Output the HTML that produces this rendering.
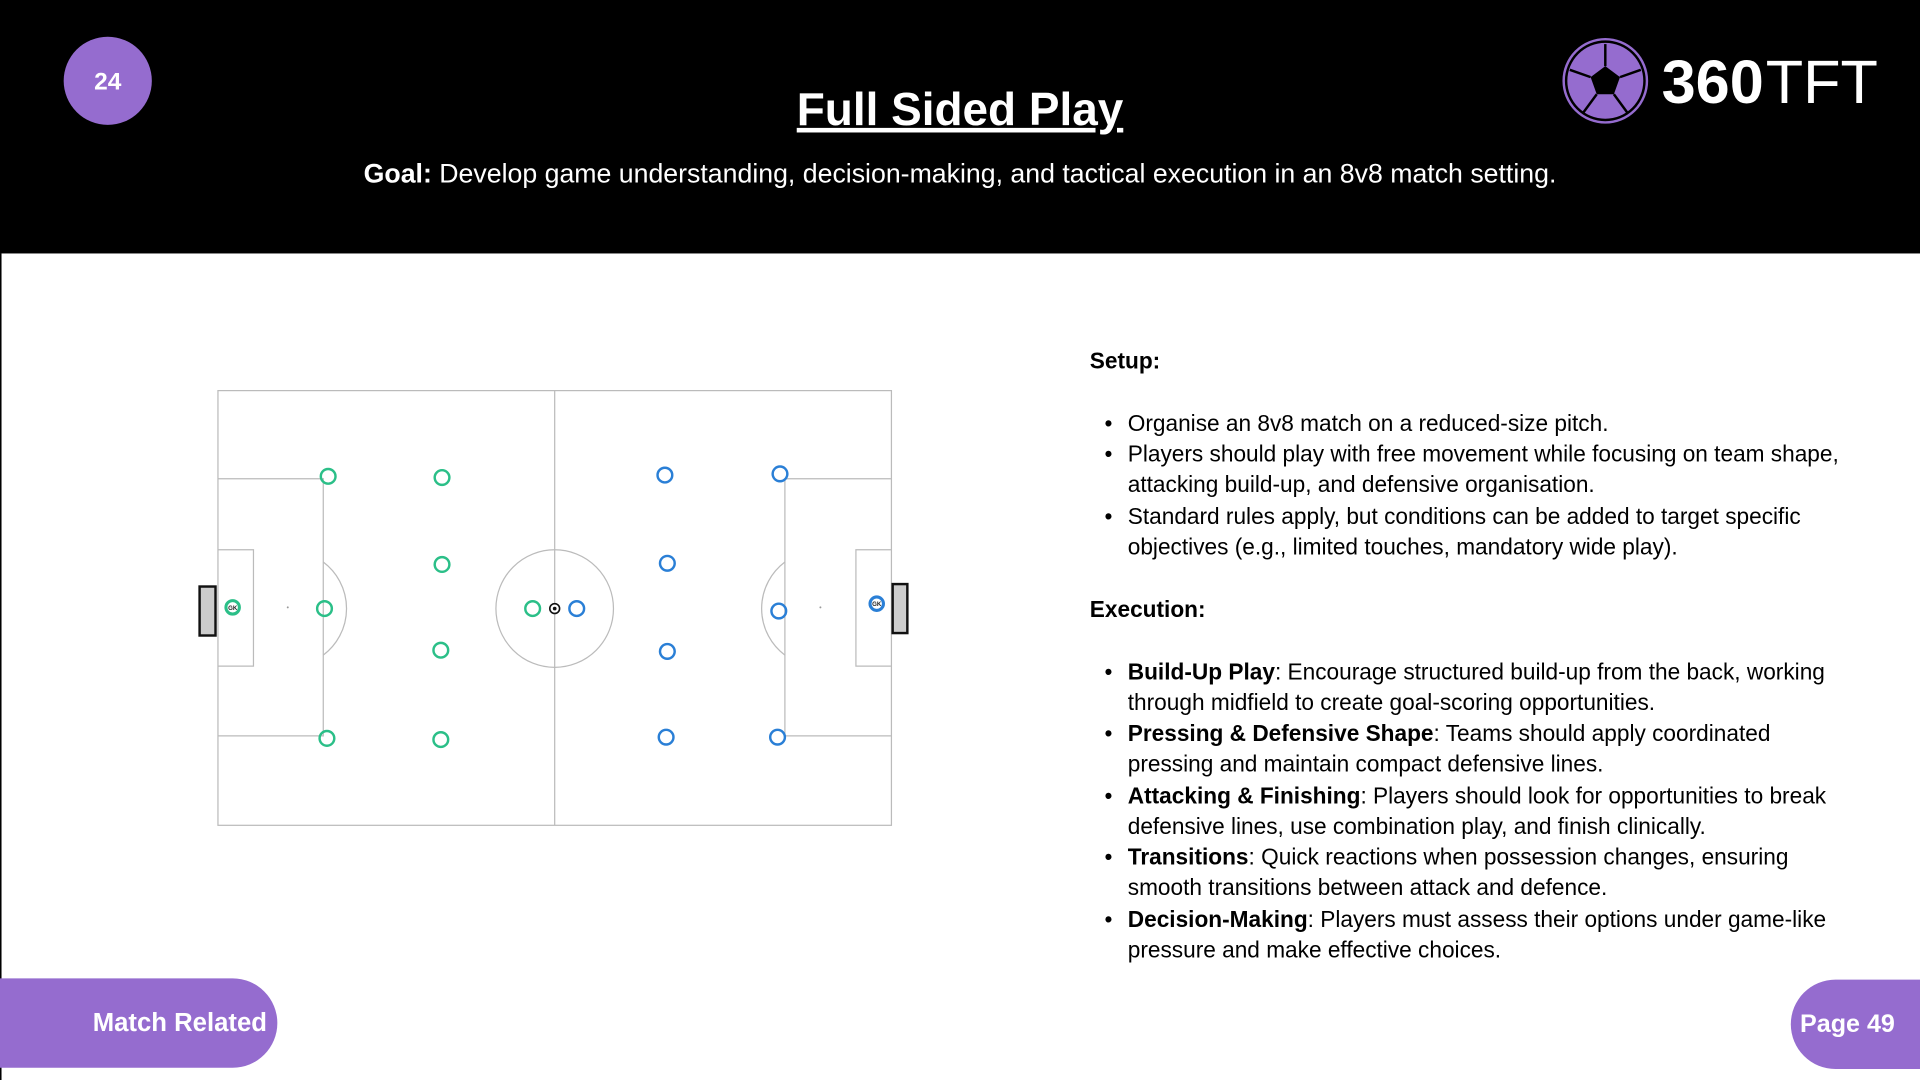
<!DOCTYPE html>
<html><head><meta charset="utf-8"><style>
html,body{margin:0;padding:0;width:1920px;height:1080px;overflow:hidden;background:#fff}
svg{display:block}
text{font-family:"Liberation Sans",Arial,sans-serif}
</style></head><body>
<svg width="1920" height="1080" viewBox="0 0 1568 882" xmlns="http://www.w3.org/2000/svg">
<rect x="0" y="0" width="1568" height="207" fill="#000"/>
<line x1="0.5" y1="207" x2="0.5" y2="882" stroke="#000" stroke-width="1.5"/>
<circle cx="88" cy="66" r="36" fill="#956ccf"/>
<text x="88" y="73" font-size="20" font-weight="bold" fill="#fff" text-anchor="middle">24</text>
<text x="784" y="102" font-size="37.5" font-weight="bold" fill="#fff" text-anchor="middle" text-decoration="underline">Full Sided Play</text>
<text x="784" y="149" font-size="21.8" fill="#fff" text-anchor="middle"><tspan font-weight="bold">Goal:</tspan> Develop game understanding, decision-making, and tactical execution in an 8v8 match setting.</text>
<!-- logo -->
<g>
<circle cx="1311" cy="66" r="34" fill="none" stroke="#956ccf" stroke-width="2"/>
<circle cx="1311" cy="66" r="31" fill="#956ccf"/>
<polygon points="1311,54 1323,63 1318,77 1304,77 1299,63" fill="#000"/>
<line x1="1311" y1="54" x2="1311" y2="36" stroke="#000" stroke-width="2"/>
<line x1="1323" y1="63" x2="1340" y2="57" stroke="#000" stroke-width="2"/>
<line x1="1318" y1="77" x2="1329" y2="92" stroke="#000" stroke-width="2"/>
<line x1="1304" y1="77" x2="1293" y2="92" stroke="#000" stroke-width="2"/>
<line x1="1299" y1="63" x2="1282" y2="57" stroke="#000" stroke-width="2"/>
</g>
<text x="1357" y="84" font-size="50" fill="#fff" font-weight="bold">360</text>
<text x="1442" y="84" font-size="50" fill="#fff">TFT</text>
<!-- pitch -->
<g fill="none" stroke="#bbb" stroke-width="1">
<rect x="178" y="319" width="550" height="355"/>
<line x1="453" y1="319" x2="453" y2="674"/>
<circle cx="453" cy="497" r="48"/>
<path d="M178 391 H264 V601 H178"/>
<path d="M178 449 H207 V544 H178"/>
<path d="M264 459 A47.5 47.5 0 0 1 264 535"/>
<path d="M728 391 H641 V601 H728"/>
<path d="M728 449 H699 V544 H728"/>
<path d="M641 459 A47.5 47.5 0 0 0 641 535"/>
</g>
<circle cx="235" cy="496" r="0.8" fill="#999"/>
<circle cx="670" cy="496" r="0.8" fill="#999"/>
<rect x="163" y="479" width="13" height="40" fill="#ccc" stroke="#111" stroke-width="2"/>
<rect x="729" y="477" width="12" height="40" fill="#ccc" stroke="#111" stroke-width="2"/>
<g fill="none" stroke="#2bbf88" stroke-width="2">
<circle cx="268" cy="389" r="6"/><circle cx="361" cy="390" r="6"/>
<circle cx="361" cy="461" r="6"/><circle cx="360" cy="531" r="6"/>
<circle cx="267" cy="603" r="6"/><circle cx="360" cy="604" r="6"/>
<circle cx="265" cy="497" r="6"/><circle cx="435" cy="497" r="6"/>
<circle cx="190" cy="496" r="5.5" stroke-width="2.5"/>
</g>
<g fill="none" stroke="#2a7fd6" stroke-width="2">
<circle cx="543" cy="388" r="6"/><circle cx="637" cy="387" r="6"/>
<circle cx="545" cy="460" r="6"/><circle cx="545" cy="532" r="6"/>
<circle cx="544" cy="602" r="6"/><circle cx="635" cy="602" r="6"/>
<circle cx="636" cy="499" r="6"/><circle cx="471" cy="497" r="6"/>
<circle cx="716" cy="493" r="5.5" stroke-width="2.5"/>
</g>
<text x="190" y="498" font-size="5" font-weight="bold" fill="#222" text-anchor="middle">GK</text>
<text x="716" y="495" font-size="5" font-weight="bold" fill="#222" text-anchor="middle">GK</text>
<circle cx="453" cy="497" r="4" fill="#fff" stroke="#111" stroke-width="1.3"/>
<circle cx="453" cy="497" r="1.5" fill="#111"/>
<!-- text -->
<g font-size="18.5" fill="#000">
<text x="890" y="301" font-weight="bold">Setup:</text>
<text x="902" y="352">•</text><text x="921" y="352">Organise an 8v8 match on a reduced-size pitch.</text>
<text x="902" y="377">•</text><text x="921" y="377">Players should play with free movement while focusing on team shape,</text>
<text x="921" y="402">attacking build-up, and defensive organisation.</text>
<text x="902" y="428">•</text><text x="921" y="428">Standard rules apply, but conditions can be added to target specific</text>
<text x="921" y="453">objectives (e.g., limited touches, mandatory wide play).</text>
<text x="890" y="504" font-weight="bold">Execution:</text>
<text x="902" y="555">•</text><text x="921" y="555"><tspan font-weight="bold">Build-Up Play</tspan>: Encourage structured build-up from the back, working</text>
<text x="921" y="580">through midfield to create goal-scoring opportunities.</text>
<text x="902" y="605">•</text><text x="921" y="605"><tspan font-weight="bold">Pressing &amp; Defensive Shape</tspan>: Teams should apply coordinated</text>
<text x="921" y="630">pressing and maintain compact defensive lines.</text>
<text x="902" y="656">•</text><text x="921" y="656"><tspan font-weight="bold">Attacking &amp; Finishing</tspan>: Players should look for opportunities to break</text>
<text x="921" y="681">defensive lines, use combination play, and finish clinically.</text>
<text x="902" y="706">•</text><text x="921" y="706"><tspan font-weight="bold">Transitions</tspan>: Quick reactions when possession changes, ensuring</text>
<text x="921" y="731">smooth transitions between attack and defence.</text>
<text x="902" y="757">•</text><text x="921" y="757"><tspan font-weight="bold">Decision-Making</tspan>: Players must assess their options under game-like</text>
<text x="921" y="782">pressure and make effective choices.</text>
</g>
<!-- pills -->
<path d="M0 799 H190 A36.5 36.5 0 0 1 190 872 H0 Z" fill="#956ccf"/>
<text x="218" y="842" font-size="21" font-weight="bold" fill="#fff" text-anchor="end">Match Related</text>
<path d="M1568 800 H1499 A36.5 36.5 0 0 0 1499 873 H1568 Z" fill="#956ccf"/>
<text x="1470" y="843" font-size="20.5" font-weight="bold" fill="#fff">Page 49</text>
</svg>
</body></html>
